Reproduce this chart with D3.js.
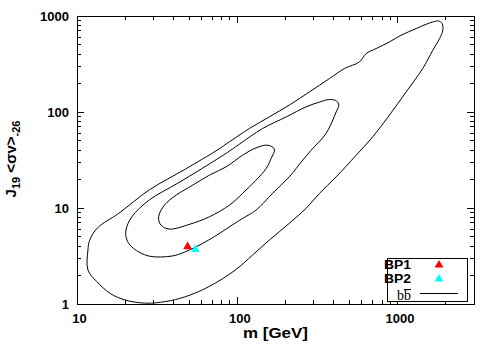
<!DOCTYPE html>
<html>
<head>
<meta charset="utf-8">
<script src="https://cdn.jsdelivr.net/npm/d3@7"></script>
<style>
  body { margin: 0; background: #fff; }
  text { font-family: "Liberation Sans", Arial, sans-serif; }
</style>
</head>
<body>
<div id="chart"></div>
<script>
// contours, [m (GeV), J19 <sv>-26]
var contourOuter = [
  [26.7,1.02],[35.6,1.06],[47.4,1.19],[66.2,1.51],[97.3,2.26],[124.7,3.24],[158.5,4.63],
  [211,6.92],[268.5,9.9],[325.6,14.2],[414,21.1],[552,35.5],[700,55.1],[889,92.6],
  [1132,162],[1436,284],[1660,440],[1829,582],[1916,710],[1899,834],[1807,887],[1660,866],
  [1510,820],[1306,739],[1052,630],[889,536],[735,458],[637,406],[578,332],[467,284],
  [376,223],[282,162],[211,118],[158.5,88.9],[119,67.3],[89.3,48.9],[74.8,40.0],[47.4,25.4],
  [28.2,15.4],[18.2,8.79],[13.4,6.18],[12.0,4.63],[11.7,3.65],[11.7,2.26],[13.3,1.71],
  [16.1,1.29],[20.0,1.10]
];
var contourMiddle = [
  [28.0,3.16],[39.2,3.16],[47.4,3.50],[66.2,4.63],[92.9,6.64],[108,7.79],[131,9.51],
  [166,14.2],[211,21.1],[256,31.5],[289,40.0],[358,59.7],[414,100],[430,118],[417,130],
  [376,135],[326,127],[268.5,113],[202,88.9],[144,67.3],[103,46.2],[89.3,39.1],[60.8,26.0],
  [41.5,17.7],[28.2,12.1],[22.0,8.10],[20.2,5.89],[20.5,4.63],[22.5,3.80]
];
var contourInner = [
  [154.9,45.1],[170.6,41.0],[162.6,32.8],[151.4,25.8],[131,19.5],[108,14.2],[89.3,10.7],
  [67.0,8.10],[50.2,6.75],[37.7,6.03],[33.4,6.64],[32.3,8.10],[35.1,10.7],[41.5,13.6],
  [52.7,17.3],[67.0,22.0],[85.1,26.8],[108,35.5],[131,42.3]
];

var bpNames = ["BP1", "BP2"];
var bpMass = [49.0, 54.7];
var bpJ = [3.95, 3.71];

var xTicks = [10, 100, 1000];
var yTicks = [1, 10, 100, 1000];

var width = 500, height = 350;
var margin = {top: 16, right: 26, bottom: 46, left: 77};

var svg = d3.select("#chart").append("svg")
    .attr("width", width)
    .attr("height", height);

var x = d3.scaleLog().domain([10, 3000]).range([margin.left, width - margin.right]);
var y = d3.scaleLog().domain([1, 1000]).range([height - margin.bottom, margin.top]);

// minor ticks for log axes
var xMinor = [], yMinor = [];
[10, 100, 1000].forEach(function(d) {
    for (var k = 2; k <= 9; k++) if (d * k < 3000) xMinor.push(d * k);
});
[1, 10, 100].forEach(function(d) {
    for (var k = 2; k <= 9; k++) yMinor.push(d * k);
});

function tickMarks(g, vals, len, horizontal) {
    vals.forEach(function(v) {
        if (horizontal) {
            g.append("line").attr("x1", x(v)).attr("x2", x(v))
                .attr("y1", y.range()[0]).attr("y2", y.range()[0] - len);
            g.append("line").attr("x1", x(v)).attr("x2", x(v))
                .attr("y1", y.range()[1]).attr("y2", y.range()[1] + len);
        } else {
            g.append("line").attr("y1", y(v)).attr("y2", y(v))
                .attr("x1", x.range()[0]).attr("x2", x.range()[0] + len);
            g.append("line").attr("y1", y(v)).attr("y2", y(v))
                .attr("x1", x.range()[1]).attr("x2", x.range()[1] - len);
        }
    });
}

var ticks = svg.append("g").attr("stroke", "black").attr("stroke-width", 1)
    .attr("shape-rendering", "crispEdges");
tickMarks(ticks, xTicks, 7, true);
tickMarks(ticks, xMinor, 4, true);
tickMarks(ticks, yTicks, 7, false);
tickMarks(ticks, yMinor, 4, false);

// axis labels through d3 axes (tick lines hidden, we draw inward ticks above)
var xAxis = d3.axisBottom(x).tickValues(xTicks).tickFormat(d3.format("d")).tickSize(0).tickPadding(10);
var gx = svg.append("g").attr("transform", "translate(2," + y.range()[0] + ")").call(xAxis);
var yAxis = d3.axisLeft(y).tickValues(yTicks).tickFormat(d3.format("d")).tickSize(0).tickPadding(8);
var gy = svg.append("g").attr("transform", "translate(" + x.range()[0] + ",0)").call(yAxis);
[gx, gy].forEach(function(g) {
    g.select(".domain").remove();
    g.selectAll("text")
        .attr("fill", "black")
        .style("font-size", "13px")
        .style("font-weight", "bold")
        .style("font-family", "Liberation Sans, Arial, sans-serif");
});

// frame
svg.append("rect")
    .attr("x", x.range()[0]).attr("y", y.range()[1])
    .attr("width", x.range()[1] - x.range()[0])
    .attr("height", y.range()[0] - y.range()[1])
    .attr("fill", "none").attr("stroke", "black")
    .attr("shape-rendering", "crispEdges");

// contours
var line = d3.line()
    .x(function(d) { return x(d[0]); })
    .y(function(d) { return y(d[1]); })
    .curve(d3.curveCatmullRomClosed.alpha(0.5));

[contourOuter, contourMiddle, contourInner].forEach(function(c) {
    svg.append("path")
        .attr("d", line(c))
        .attr("fill", "none")
        .attr("stroke", "black")
        .attr("stroke-width", 1);
});

// benchmark points
var tri = d3.symbol().type(d3.symbolTriangle).size(34);
var bpColors = ["#ff0000", "#00ffff"];
bpNames.forEach(function(n, i) {
    svg.append("path")
        .attr("d", tri())
        .attr("transform", "translate(" + x(bpMass[i]) + "," + y(bpJ[i]) + ")")
        .attr("fill", bpColors[i]);
});

// axis titles
svg.append("text")
    .attr("x", (x.range()[0] + x.range()[1]) / 2)
    .attr("y", 338)
    .attr("text-anchor", "middle")
    .style("font-size", "15px").style("font-weight", "bold")
    .attr("textLength", 65).attr("lengthAdjust", "spacingAndGlyphs")
    .text("m [GeV]");

var yt = svg.append("text")
    .attr("transform", "translate(16," + 159 + ") rotate(-90)")
    .attr("text-anchor", "middle")
    .style("font-size", "15px").style("font-weight", "bold");
yt.append("tspan").text("J");
yt.append("tspan").attr("dy", 4).style("font-size", "11px").text("19");
yt.append("tspan").attr("dy", -4).text(" <σv>");
yt.append("tspan").attr("dy", 4).style("font-size", "11px").text("-26");

// legend
var leg = svg.append("g");
leg.append("rect")
    .attr("x", 387).attr("y", 258).attr("width", 80).attr("height", 43)
    .attr("fill", "white").attr("stroke", "black")
    .attr("shape-rendering", "crispEdges");
bpNames.forEach(function(n, i) {
    leg.append("text")
        .attr("x", 384).attr("y", 269 + i * 14)
        .style("font-size", "12px").style("font-weight", "bold")
        .attr("textLength", 27).attr("lengthAdjust", "spacingAndGlyphs")
        .text(n);
    leg.append("path")
        .attr("d", tri())
        .attr("transform", "translate(439," + (265 + i * 14) + ")")
        .attr("fill", bpColors[i]);
});
leg.append("text")
    .attr("x", 397).attr("y", 300)
    .style("font-family", "Liberation Serif, Times New Roman, serif")
    .style("font-size", "14px")
    .text("bb");
// bar over the second b
leg.append("line")
    .attr("x1", 404).attr("x2", 411).attr("y1", 289.5).attr("y2", 289.5)
    .attr("stroke", "black").attr("shape-rendering", "crispEdges");
leg.append("line")
    .attr("x1", 420).attr("x2", 458).attr("y1", 293).attr("y2", 293)
    .attr("stroke", "black").attr("shape-rendering", "crispEdges");
</script>
</body>
</html>
